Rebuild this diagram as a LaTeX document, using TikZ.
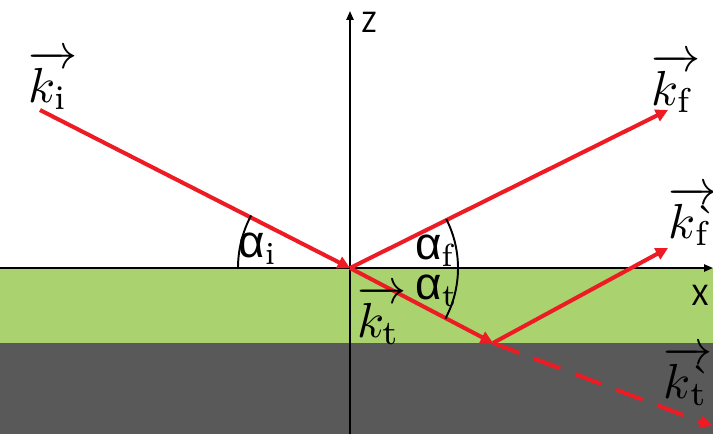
\documentclass[tikz,border=0pt]{standalone}
\usepackage{amsmath,amssymb}
\usepackage{fontspec}
\newfontfamily\carlito{Carlito}
\newfontfamily\greeksans{Liberation Sans}
\usetikzlibrary{arrows.meta}

\definecolor{beamred}{RGB}{237,28,36}
\definecolor{layergreen}{RGB}{170,210,110}
\definecolor{substrategray}{RGB}{89,89,89}

\newcommand{\wavevec}[1]{\rlap{$\overrightarrow{\phantom{k}}$}$k_{\mathrm{#1}}$}
\newcommand{\wavevecb}[1]{\rlap{$\overrightarrow{\phantom{k}}$}$k$\rlap{\raisebox{0.1ex}{\small\textasciigrave}}${}_{\mathrm{#1}}$}
\newcommand{\angl}[1]{{\greeksans α}$_{\mathrm{#1}}$}

\tikzset{
  beam/.style={beamred,line width=2.3pt,-{Triangle[length=7pt,width=7pt]}},
  axis/.style={black,line width=1.1pt,-{Triangle[length=5pt,width=4pt]}},
  anglearc/.style={black,line width=1.1pt},
  veclabel/.style={inner sep=0pt,scale=2.8},
  anglelabel/.style={inner sep=0pt,scale=2.6},
  axislabel/.style={inner sep=0pt,font=\carlito,scale=1.8}
}

\begin{document}
\begin{tikzpicture}[x=0.02cm,y=0.02cm]
  \useasboundingbox (0,0) rectangle (713,434);
  \fill[substrategray] (0,0) rectangle (713,91);
  \fill[layergreen] (0,91) rectangle (713,166);

  \coordinate (O) at (350,166);
  \coordinate (Ki) at (40,324);
  \coordinate (Kf) at (668,324);
  \coordinate (T) at (493,91);
  \coordinate (Kf2) at (668,186);
  \coordinate (Kt2) at (712,8);
  \coordinate (zb) at (350,0);
  \coordinate (zt) at (350,423);
  \coordinate (xl) at (0,166);
  \coordinate (xr) at (713,166);

  % axes
  \draw[axis] (zb) -- (zt);
  \draw[axis] (xl) -- (xr);
  \node[axislabel] (zlab) at (369,412) {Z};
  \node[axislabel] (xlab) at (700,139) {X};

  % beams
  \draw[beam] (Ki) -- (O);
  \draw[beam] (O) -- (Kf);
  \draw[beam] (O) -- (T);
  \draw[beam] (T) -- (Kf2);
  \draw[beam,dashed,dash pattern=on 16pt off 9pt] (T) -- (Kt2);

  % angles
  \draw[anglearc] ([shift={(180:112)}]O) arc[start angle=180,end angle=152,radius=112];
  \draw[anglearc] ([shift={(27:108)}]O) arc[start angle=27,end angle=-28,radius=108];
  \node[anglelabel] (ai) at (258,185) {\angl{i}};
  \node[anglelabel] (af) at (435,183) {\angl{f}};
  \node[anglelabel] (at) at (437,143) {\angl{t}};

  % wave vectors
  \node[veclabel] (ki) at (48,354) {\wavevec{i}};
  \node[veclabel] (kf) at (672,351) {\wavevec{f}};
  \node[veclabel] (kt) at (379,119) {\wavevec{t}};
  \node[veclabel] (kf2) at (689,218) {\wavevecb{f}};
  \node[veclabel] (kt2) at (686,58) {\wavevecb{t}};
\end{tikzpicture}
\end{document}
